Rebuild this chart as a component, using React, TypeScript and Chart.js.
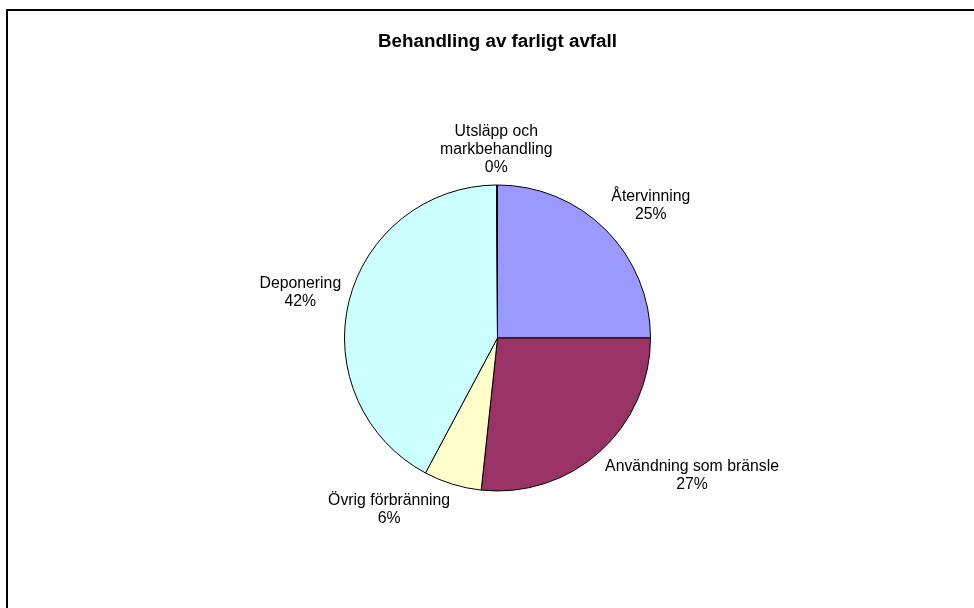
import React, { useEffect, useRef } from "react";
import { Chart, registerables } from "chart.js";

Chart.register(...registerables);

const chartTitle = "Behandling av farligt avfall";
const categories = [
  "Återvinning",
  "Användning som bränsle",
  "Övrig förbränning",
  "Deponering",
  "Utsläpp och markbehandling",
];
const values = [25.0, 26.7, 6.1, 42.1, 0.1];
const colors = ["#9999FF", "#993366", "#FFFFCC", "#CCFFFF", "#660066"];

const FONT = '"Liberation Sans", Arial, Helvetica, sans-serif';

const clamp01 = (v: number) => Math.max(0, Math.min(1, v));

function wrapText(ctx: CanvasRenderingContext2D, text: string, maxW: number): string[] {
  const words = text.split(" ");
  const lines: string[] = [];
  let cur = "";
  for (const w of words) {
    const test = cur ? cur + " " + w : w;
    if (cur && ctx.measureText(test).width > maxW) {
      lines.push(cur);
      cur = w;
    } else {
      cur = test;
    }
  }
  if (cur) lines.push(cur);
  return lines;
}

const outsideLabels = {
  id: "outsideLabels",
  afterDatasetsDraw(chart: any) {
    const ctx: CanvasRenderingContext2D = chart.ctx;
    const meta = chart.getDatasetMeta(0);
    const data = chart.data.datasets[0].data as number[];
    const total = data.reduce((a, b) => a + b, 0);
    const labels = chart.data.labels as string[];
    ctx.save();
    ctx.font = `15.8px ${FONT}`;
    ctx.fillStyle = "#000";
    ctx.textAlign = "center";
    ctx.textBaseline = "middle";
    const L = 18;
    const gap = 8;
    const wrapW = 190;
    meta.data.forEach((el: any, i: number) => {
      const { x, y, startAngle, endAngle, outerRadius } = el.getProps(
        ["x", "y", "startAngle", "endAngle", "outerRadius"],
        true
      );
      const mid = (startAngle + endAngle) / 2;
      const ux = Math.cos(mid);
      const uy = Math.sin(mid);
      const px = x + (outerRadius + gap) * ux;
      const py = y + (outerRadius + gap) * uy;
      const lines = wrapText(ctx, labels[i], wrapW);
      lines.push(Math.round((data[i] / total) * 100) + "%");
      const w = Math.max(...lines.map((l) => ctx.measureText(l).width));
      const h = lines.length * L;
      const fx = clamp01(0.5 - 2 * ux);
      const fy = clamp01(0.5 - 0.8 * uy);
      const left = px - w * fx;
      const top = py - h * fy;
      lines.forEach((ln, j) => ctx.fillText(ln, left + w / 2, top + L * (j + 0.5)));
    });
    ctx.restore();
  },
};

export default function App() {
  const ref = useRef<HTMLCanvasElement | null>(null);

  useEffect(() => {
    if (!ref.current) return;
    const chart = new Chart(ref.current, {
      type: "pie",
      data: {
        labels: categories,
        datasets: [
          {
            data: values,
            backgroundColor: colors,
            borderColor: "#000",
            borderWidth: 1,
            hoverBorderWidth: 1,
            hoverOffset: 0,
            radius: 153,
          } as any,
        ],
      },
      options: {
        responsive: false,
        animation: false,
        events: [],
        layout: { padding: { top: 0, left: 101, right: 80, bottom: 112 } },
        plugins: {
          legend: { display: false },
          tooltip: { enabled: false },
          title: {
            display: true,
            text: chartTitle,
            color: "#000",
            font: { family: FONT, size: 18.8, weight: "bold", lineHeight: 1.2 },
            padding: { top: 30.7, bottom: 126.7 },
          },
        },
      } as any,
      plugins: [outsideLabels],
    });
    return () => chart.destroy();
  }, []);

  return (
    <div
      style={{
        position: "fixed",
        left: 0,
        top: 0,
        width: 974,
        height: 608,
        overflow: "hidden",
        background: "#fff",
      }}
    >
      <div
        style={{
          position: "absolute",
          left: 6,
          top: 9,
          width: 2000,
          height: 2000,
          border: "2px solid #000",
          boxSizing: "border-box",
        }}
      />
      <canvas
        ref={ref}
        width={974}
        height={608}
        style={{ position: "absolute", left: 0, top: 0, display: "block" }}
      />
    </div>
  );
}
